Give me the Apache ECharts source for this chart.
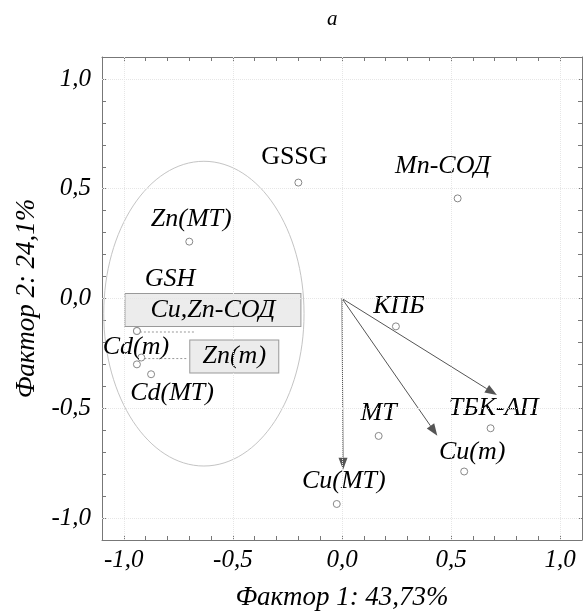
<!DOCTYPE html>
<html>
<head>
<meta charset="utf-8">
<script src="https://cdn.jsdelivr.net/npm/echarts@6/dist/echarts.min.js"></script>
<style>
  html, body { margin: 0; padding: 0; background: #fff; }
  #chart { width: 585px; height: 616px; }
</style>
</head>
<body>
<div id="chart"></div>
<script>
// переменные на плоскости факторов
const names = ['GSSG', 'Mn-СОД', 'Zn(MT)', 'GSH', 'Cu,Zn-СОД', 'Zn(m)', 'Cd(m)', 'Cd(MT)', 'КПБ', 'MT', 'ТБК-АП', 'Cu(m)', 'Cu(MT)']
const factor1 = [-0.20, 0.53, -0.70, -0.94, -0.94, -0.92, -0.94, -0.875, 0.247, 0.168, 0.681, 0.56, -0.024]
const factor2 = [0.528, 0.456, 0.259, -0.148, -0.148, -0.269, -0.30, -0.345, -0.127, -0.626, -0.591, -0.788, -0.936]
// векторы из начала координат
const arrowX = [0.005, 0.437, 0.71]
const arrowY = [-0.78, -0.625, -0.44]
// эллипс группы (центр и полуоси)
const ellipseCenter = [-0.633, -0.069]
const ellipseRadius = [0.459, 0.694]
// подписи делений
const tickValues = [-1, -0.5, 0, 0.5, 1]
const tickLabels = ['-1,0', '-0,5', '0,0', '0,5', '1,0']

const FONT = "'Liberation Serif', 'Times New Roman', serif"
const AXIS_COLOR = '#777'

// смещения подписей в пикселях
const labelOffset = {
  'GSSG': [-4, -25],
  'Mn-СОД': [-15, -32],
  'Zn(MT)': [2, -22],
  'GSH': [33, -52],
  'Cu,Zn-СОД': [76, -21],
  'Zn(m)': [93, -1],
  'Cd(m)': [-1, -17],
  'Cd(MT)': [21, 19],
  'КПБ': [3, -20],
  'MT': [0, -23],
  'ТБК-АП': [3, -20],
  'Cu(m)': [8, -19],
  'Cu(MT)': [7, -23]
}
// подписи в рамках и длина пунктирной выноски
const boxed = { 'Cu,Zn-СОД': { w: 175, lead: 58 }, 'Zn(m)': { w: 88, lead: 46 } }

function tickFormatter(v) {
  for (let i = 0; i < tickValues.length; i++) {
    if (Math.abs(v - tickValues[i]) < 1e-6) return tickLabels[i]
  }
  return ''
}

const points = names.map((n, i) => {
  const item = {
    name: n,
    value: [factor1[i], factor2[i]],
    label: {}
  }
  if (n === 'GSSG') item.label.fontStyle = 'normal'
  if (boxed[n]) {
    Object.assign(item.label, {
      backgroundColor: '#ececec',
      borderColor: '#999',
      borderWidth: 1,
      width: boxed[n].w,
      height: 32,
      lineHeight: 32,
      align: 'center'
    })
  }
  return item
})

const leads = names.map((n, i) => boxed[n] ? [factor1[i], factor2[i], boxed[n].lead] : null).filter(Boolean)

function valueAxis(pos, main) {
  return {
    type: 'value',
    position: pos,
    min: -1.1,
    max: 1.1,
    interval: 0.1,
    axisLine: { show: true, onZero: false, lineStyle: { color: AXIS_COLOR, width: 1 } },
    axisTick: { show: true, inside: true, length: 4, lineStyle: { color: AXIS_COLOR } },
    axisLabel: main ? {
      show: true,
      formatter: tickFormatter,
      fontFamily: FONT,
      fontStyle: 'italic',
      fontSize: 25,
      color: '#000'
    } : { show: false },
    splitLine: { show: false }
  }
}

const xMain = valueAxis('bottom', true)
xMain.axisLabel.margin = 8
xMain.name = 'Фактор 1: 43,73%'
xMain.nameLocation = 'middle'
xMain.nameGap = 44
xMain.nameTextStyle = { fontFamily: FONT, fontStyle: 'italic', fontSize: 27, color: '#000' }

const yMain = valueAxis('left', true)
yMain.axisLabel.margin = 11
yMain.name = 'Фактор 2: 24,1%'
yMain.nameLocation = 'middle'
yMain.nameGap = 59
yMain.nameTextStyle = { fontFamily: FONT, fontStyle: 'italic', fontSize: 27, color: '#000' }

const option = {
  animation: false,
  backgroundColor: '#fff',
  title: {
    text: 'a',
    left: 322,
    top: 4,
    textStyle: { fontFamily: FONT, fontStyle: 'italic', fontWeight: 'normal', fontSize: 21, color: '#000' }
  },
  grid: { left: 102, top: 57, bottom: 74, right: -3 },
  xAxis: [xMain, valueAxis('top', false)],
  yAxis: [yMain, valueAxis('right', false)],
  series: [
    {
      type: 'custom',
      name: 'ellipse',
      silent: true,
      data: [[ellipseCenter[0], ellipseCenter[1], ellipseRadius[0], ellipseRadius[1]]],
      encode: { x: 0, y: 1 },
      renderItem(params, api) {
        const c = api.coord([api.value(0), api.value(1)])
        const s = api.size([api.value(2), api.value(3)])
        return {
          type: 'ellipse',
          shape: { cx: c[0], cy: c[1], rx: s[0], ry: s[1] },
          style: { fill: 'none', stroke: '#c4c4c4', lineWidth: 1 }
        }
      },
      z: 1
    },
    {
      type: 'custom',
      name: 'arrows',
      silent: true,
      data: arrowX.map((x, i) => [x, arrowY[i]]),
      encode: { x: 0, y: 1 },
      renderItem(params, api) {
        const o = api.coord([0, 0])
        const e = api.coord([api.value(0), api.value(1)])
        const ang = Math.atan2(e[1] - o[1], e[0] - o[0])
        const L = 12
        const W = 4.5
        const bx = e[0] - L * Math.cos(ang)
        const by = e[1] - L * Math.sin(ang)
        const px = -Math.sin(ang) * W
        const py = Math.cos(ang) * W
        return {
          type: 'group',
          children: [
            { type: 'line', shape: { x1: o[0], y1: o[1], x2: bx, y2: by }, style: { stroke: '#555', lineWidth: 1 } },
            { type: 'polygon', shape: { points: [[e[0], e[1]], [bx + px, by + py], [bx - px, by - py]] }, style: { fill: '#555' } }
          ]
        }
      },
      z: 2
    },
    {
      type: 'custom',
      name: 'leads',
      silent: true,
      data: leads,
      encode: { x: 0, y: 1 },
      renderItem(params, api) {
        const p = api.coord([api.value(0), api.value(1)])
        return {
          type: 'line',
          shape: { x1: p[0] + 3, y1: p[1] + 1, x2: p[0] + api.value(2), y2: p[1] + 1 },
          style: { stroke: '#999', lineWidth: 1, lineDash: [2, 2] }
        }
      },
      z: 2
    },
    {
      type: 'scatter',
      name: 'vars',
      symbol: 'circle',
      symbolSize: 7,
      itemStyle: { color: '#fff', borderColor: '#888', borderWidth: 1, opacity: 1 },
      label: {
        show: true,
        position: 'inside',
        formatter: '{b}',
        fontFamily: FONT,
        fontStyle: 'italic',
        fontSize: 26,
        color: '#000'
      },
      labelLayout(params) {
        const o = labelOffset[names[params.dataIndex]]
        return { dx: o[0], dy: o[1], hideOverlap: false }
      },
      data: points,
      markLine: {
        silent: true,
        symbol: 'none',
        label: { show: false },
        lineStyle: { color: '#e6e6e6', type: 'dotted', width: 1 },
        data: tickValues.map(v => ({ xAxis: v })).concat(tickValues.map(v => ({ yAxis: v })))
      },
      z: 3
    }
  ]
}

const chart = echarts.init(document.getElementById('chart'))
chart.setOption(option)
</script>
</body>
</html>
